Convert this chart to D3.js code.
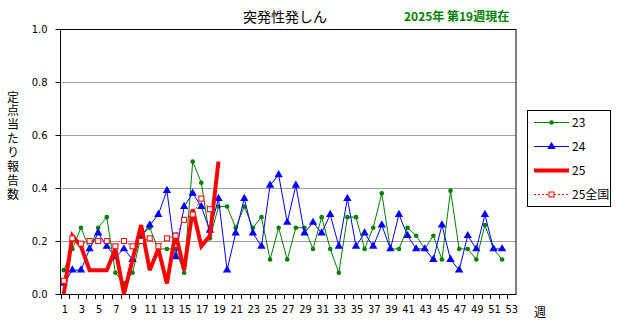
<!DOCTYPE html>
<html>
<head>
<meta charset="utf-8">
<script src="https://cdn.jsdelivr.net/npm/d3@7"></script>
<style>
body { margin: 0; background: #fff; }
text { font-family: "Liberation Sans", "Noto Sans CJK JP", sans-serif; }
.jp { font-family: "Noto Sans CJK JP", sans-serif; }
</style>
</head>
<body>
<svg width="617" height="326"></svg>
<script>
// data
var weeks = d3.range(1, 54);
var s23 = [0.09,0.17,0.25,0.17,0.25,0.29,0.08,0.04,0.08,0.22,0.25,0.17,0.17,0.17,0.08,0.50,0.42,0.21,0.33,0.33,
           0.25,0.33,0.25,0.29,0.13,0.25,0.13,0.25,0.25,0.17,0.29,0.17,0.08,0.29,0.29,0.17,0.25,0.38,0.17,0.17,
           0.25,0.22,0.17,0.22,0.13,0.39,0.17,0.17,0.13,0.26,0.17,0.13];
var s24 = [0.04,0.09,0.09,0.17,0.23,0.18,0.14,0.17,0.13,0.22,0.26,0.30,0.39,0.14,0.33,0.38,0.33,0.24,0.36,0.09,
           0.23,0.36,0.23,0.18,0.41,0.45,0.27,0.41,0.23,0.27,0.23,0.30,0.18,0.36,0.18,0.23,0.18,0.26,0.17,0.30,
           0.22,0.17,0.17,0.13,0.26,0.13,0.09,0.22,0.17,0.30,0.17,0.17];
var s25 = [0.00,0.22,0.18,0.09,0.09,0.09,0.17,0.00,0.13,0.26,0.09,0.17,0.04,0.23,0.09,0.32,0.18,0.22,0.50];
var s25all = [0.05,0.21,0.19,0.20,0.20,0.20,0.18,0.20,0.18,0.20,0.21,0.18,0.21,0.22,0.28,0.30,0.36,0.32];
var yTicks = [0, 0.2, 0.4, 0.6, 0.8, 1.0];

var svg = d3.select("svg");
var pLeft = 60.5, pRight = 516, pTop = 29, pBottom = 294;

var x = d3.scaleBand().domain(weeks).range([pLeft, pRight]);
var y = d3.scaleLinear().domain([0, 1]).range([pBottom, pTop]);
function cx(i) { return x(i + 1) + x.bandwidth() / 2 - 1; }

// grid
svg.append("g").selectAll("line")
  .data(yTicks.slice(1, -1))
  .enter().append("line")
  .attr("x1", pLeft).attr("x2", pRight)
  .attr("y1", function(d) { return Math.round(y(d)) + 0.5; })
  .attr("y2", function(d) { return Math.round(y(d)) + 0.5; })
  .attr("stroke", "#a0a0a0");

// axes
var yAxis = svg.append("g")
  .attr("transform", "translate(" + pLeft + ",0)")
  .call(d3.axisLeft(y).tickValues(yTicks).tickFormat(d3.format(".1f")).tickSize(5).tickPadding(8));
var xAxis = svg.append("g")
  .attr("transform", "translate(0," + pBottom + ")")
  .call(d3.axisBottom(x).tickSize(0).tickPadding(11)
    .tickFormat(function(d) { return d % 2 === 1 ? d : ""; }));
[yAxis, xAxis].forEach(function(g) {
  g.select(".domain").remove();
  g.selectAll("text").attr("fill", "#000").style("font-size", "11px")
    .style("font-family", "'DejaVu Sans Condensed', 'Liberation Sans Narrow', sans-serif");
  g.selectAll("line").attr("stroke", "#000");
});

// x ticks on category boundaries
svg.append("g").selectAll("line")
  .data(weeks)
  .enter().append("line")
  .attr("x1", function(d) { return Math.round(x(d)) + 0.5; })
  .attr("x2", function(d) { return Math.round(x(d)) + 0.5; })
  .attr("y1", pBottom).attr("y2", pBottom + 5)
  .attr("stroke", "#000");

// frame
svg.append("rect")
  .attr("x", pLeft).attr("y", pTop + 0.5)
  .attr("width", pRight - pLeft).attr("height", pBottom - pTop)
  .attr("fill", "none").attr("stroke", "#000");

var line = d3.line().x(function(d, i) { return cx(i); }).y(function(d) { return y(d); });

// 23
svg.append("path").datum(s23).attr("d", line)
  .attr("fill", "none").attr("stroke", "#008000").attr("stroke-width", 1);
svg.append("g").selectAll("circle").data(s23).enter().append("circle")
  .attr("cx", function(d, i) { return cx(i); }).attr("cy", function(d) { return y(d); })
  .attr("r", 2.3).attr("fill", "#008000");

// 24
var tri = d3.symbol().type(d3.symbolTriangle).size(30);
svg.append("path").datum(s24).attr("d", line)
  .attr("fill", "none").attr("stroke", "#0000ff").attr("stroke-width", 1);
svg.append("g").selectAll("path").data(s24).enter().append("path")
  .attr("d", tri)
  .attr("transform", function(d, i) { return "translate(" + cx(i) + "," + y(d) + ")"; })
  .attr("fill", "#0000ff");

// 25
svg.append("path").datum(s25).attr("d", line)
  .attr("fill", "none").attr("stroke", "#ff0000").attr("stroke-width", 4)
  .attr("stroke-linejoin", "miter").attr("stroke-miterlimit", 3);

// 25全国
svg.append("path").datum(s25all).attr("d", line)
  .attr("fill", "none").attr("stroke", "#ff0000").attr("stroke-width", 1)
  .attr("stroke-dasharray", "2,2");
svg.append("g").selectAll("rect").data(s25all).enter().append("rect")
  .attr("x", function(d, i) { return cx(i) - 2.5; })
  .attr("y", function(d) { return y(d) - 2.5; })
  .attr("width", 5).attr("height", 5)
  .attr("fill", "#fff").attr("stroke", "#ff0000").attr("stroke-width", 1);

// titles
svg.append("text").attr("class", "jp").attr("x", 285).attr("y", 22)
  .attr("text-anchor", "middle").style("font-size", "14px").text("突発性発しん");
svg.append("text").attr("class", "jp").attr("x", 404).attr("y", 21)
  .style("font-size", "12px").style("font-weight", "bold").attr("fill", "#008000")
  .text("2025年 第19週現在");

// y title (vertical)
svg.append("text").attr("class", "jp")
  .attr("x", 13).attr("y", 91)
  .style("writing-mode", "vertical-rl").style("letter-spacing", "1.9px")
  .style("font-size", "12px").text("定点当たり報告数");

svg.append("text").attr("class", "jp").attr("x", 540).attr("y", 317)
  .attr("text-anchor", "middle").style("font-size", "12px").text("週");

// legend
var lg = svg.append("g");
lg.append("rect").attr("x", 527.5).attr("y", 110.5).attr("width", 83).attr("height", 96)
  .attr("fill", "#fff").attr("stroke", "#000");
var legendItems = [
  { name: "23", color: "#008000", w: 1, dash: null, mark: "circle" },
  { name: "24", color: "#0000ff", w: 1, dash: null, mark: "tri" },
  { name: "25", color: "#ff0000", w: 4, dash: null, mark: "none" },
  { name: "25全国", color: "#ff0000", w: 1, dash: "2,2", mark: "square" }
];
legendItems.forEach(function(d, i) {
  var ly = 122.5 + i * 24;
  var g = lg.append("g");
  g.append("line").attr("x1", 534).attr("x2", 569).attr("y1", ly).attr("y2", ly)
    .attr("stroke", d.color).attr("stroke-width", d.w).attr("stroke-dasharray", d.dash);
  if (d.mark === "circle") g.append("circle").attr("cx", 551.5).attr("cy", ly).attr("r", 2.3).attr("fill", d.color);
  if (d.mark === "tri") g.append("path").attr("d", tri).attr("transform", "translate(551.5," + ly + ")").attr("fill", d.color);
  if (d.mark === "square") g.append("rect").attr("x", 549).attr("y", ly - 2.5).attr("width", 5).attr("height", 5)
    .attr("fill", "#fff").attr("stroke", d.color);
  g.append("text").attr("class", "jp").attr("x", 572).attr("y", ly + 4.5)
    .style("font-size", "12px").text(d.name);
});
</script>
</body>
</html>
